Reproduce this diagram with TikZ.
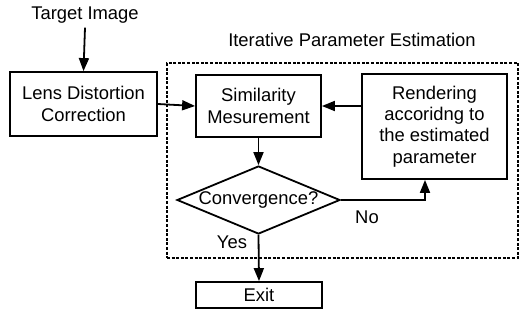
\documentclass[tikz,border=0pt]{standalone}
\usepackage{fontspec}
\setmainfont{Liberation Sans}
\usetikzlibrary{arrows.meta,shapes.geometric}
\begin{document}
\begin{tikzpicture}[x=0.5pt,y=-0.5pt,
  every node/.style={font=\fontsize{9.2}{10.6}\selectfont, align=center},
  box/.style={draw, line width=0.9pt, inner sep=0pt},
  conn/.style={line width=0.9pt, -{Triangle[length=6.5pt,width=5pt]}},
  frame/.style={draw, line width=0.6pt, dash pattern=on 1.5pt off 0.8pt, inner sep=0pt}]
\useasboundingbox (0,0) rectangle (521,322);
\node[frame, minimum width=175.5pt, minimum height=97.5pt] (iter) at (342.5,160.5) {};
\node (title) at (352,40) {Iterative Parameter Estimation};
\node[inner sep=2pt] (target) at (85,15) {Target Image};
\node[box, minimum width=73.5pt, minimum height=32pt] (lens) at (83.5,104) {Lens Distortion\\Correction};
\node[box, minimum width=62.5pt, minimum height=31pt] (sim) at (258.5,106) {Similarity\\Mesurement};
\node[box, minimum width=72.5pt, minimum height=52.5pt] (rend) at (434.5,126.5) {Rendering\\accoridng to\\the estimated\\parameter};
\node[draw, diamond, shape aspect=2.4, line width=0.9pt, inner sep=0pt, minimum width=81.5pt, minimum height=34pt] (conv) at (258.5,200) {Convergence?};
\node[box, minimum width=63pt, minimum height=13pt] (exit) at (259,295) {Exit};
\node (no) at (367,217) {No};
\node (yes) at (232,242) {Yes};
\coordinate (turn) at (425,200);
\draw[conn] (target.south) -- (lens.north);
\draw[conn] (lens.east) -- (sim.west);
\draw[conn] (rend.west |- sim.east) -- (sim.east);
\draw[conn] (sim.south) -- (conv.north);
\draw[conn] (conv.east) -- (turn) -- (turn |- rend.south);
\draw[conn] (conv.south) -- (exit.north);
\end{tikzpicture}
\end{document}
